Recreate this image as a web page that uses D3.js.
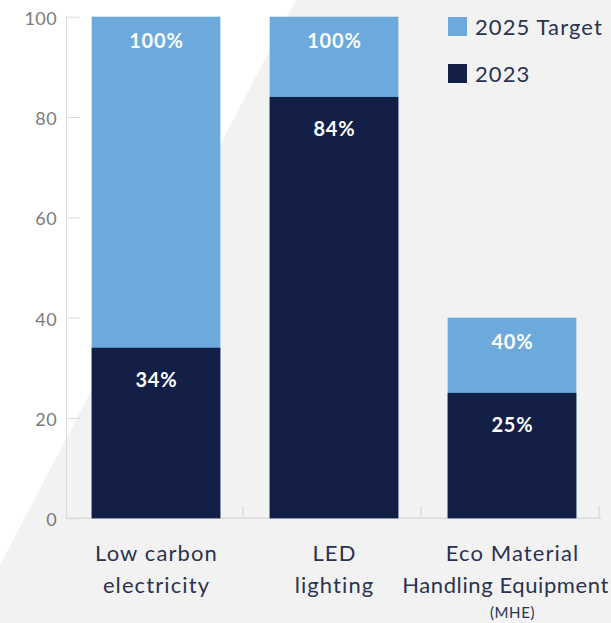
<!DOCTYPE html>
<html>
<head>
<meta charset="utf-8">
<script src="https://cdn.jsdelivr.net/npm/d3@7"></script>
<style>
  html, body { margin: 0; padding: 0; background: #f2f2f2; }
  svg { display: block; font-family: Lato, "Noto Sans", sans-serif; }
</style>
</head>
<body>
<svg id="chart" width="611" height="623"></svg>
<script>
// Share of sites reaching each initiative: 2023 actual vs 2025 target (%)
const categories = ["Low carbon electricity", "LED lighting", "Eco Material Handling Equipment"];
const categoryLines = [["Low carbon", "electricity"], ["LED", "lighting"], ["Eco Material", "Handling Equipment"]];
const categoryNotes = ["", "", "(MHE)"];
const actual2023 = [34, 84, 25];
const target2025 = [100, 100, 40];
const yTicks = [0, 20, 40, 60, 80, 100];
const seriesNames = ["2025 Target", "2023"];

const colors = { target: "#6ca9dc", actual: "#131f47" };

const svg = d3.select("#chart");
const W = 611, H = 623;

// page backdrop: white corner wedge over the grey field
svg.append("rect").attr("width", W).attr("height", H).attr("fill", "#f2f2f2");
svg.append("path").attr("d", "M0,0 L296,0 L0,565 Z").attr("fill", "#ffffff");

const x = d3.scaleBand().domain(categories).range([67, 601]).paddingInner(0.277).paddingOuter(0.1385);
const y = d3.scaleLinear().domain([0, 100]).range([518.3, 16.7]);

// y axis
const yAxis = svg.append("g").attr("transform", "translate(66.5,0)")
  .call(d3.axisRight(y).tickValues(yTicks).tickSize(13).tickFormat(""));
yAxis.select(".domain").attr("stroke", "#dcdcdc").attr("d", `M0,${y(100)}V${y(0)}`);
yAxis.selectAll(".tick line").attr("stroke", "#dcdcdc");

svg.append("g").selectAll("text").data(yTicks).join("text")
  .attr("x", 57).attr("y", d => y(d) + 3.5)
  .attr("text-anchor", "end").attr("dominant-baseline", "middle")
  .attr("font-size", 18).attr("letter-spacing", 0.4).attr("fill", "#7b7b7b")
  .text(d => d);

// x axis baseline with separators between categories
const step = x.step();
const sepX = categories.map((c, i) => 67 + step * (i + 1));
svg.append("line").attr("x1", 66.5).attr("x2", sepX[sepX.length - 1])
  .attr("y1", y(0)).attr("y2", y(0)).attr("stroke", "#dcdcdc").attr("stroke-width", 1.5);
svg.append("g").selectAll("line").data(sepX).join("line")
  .attr("x1", d => d - 2).attr("x2", d => d - 2)
  .attr("y1", y(0)).attr("y2", y(0) - 12)
  .attr("stroke", "#dcdcdc").attr("stroke-width", 1.5);

// bars: target drawn full height, 2023 on top from the baseline
const bars = svg.append("g");
bars.selectAll("rect.target").data(categories).join("rect")
  .attr("class", "target")
  .attr("x", d => x(d)).attr("width", x.bandwidth())
  .attr("y", (d, i) => y(target2025[i]))
  .attr("height", (d, i) => y(0) - y(target2025[i]))
  .attr("fill", colors.target);
bars.selectAll("rect.actual").data(categories).join("rect")
  .attr("class", "actual")
  .attr("x", d => x(d)).attr("width", x.bandwidth())
  .attr("y", (d, i) => y(actual2023[i]))
  .attr("height", (d, i) => y(0) - y(actual2023[i]))
  .attr("fill", colors.actual);

// value labels
const lbl = svg.append("g").attr("font-weight", 700).attr("font-size", 20)
  .attr("letter-spacing", 0.8).attr("fill", "#ffffff").attr("text-anchor", "middle");
lbl.selectAll("text.t").data(categories).join("text")
  .attr("x", d => x(d) + x.bandwidth() / 2 + 0.4)
  .attr("y", (d, i) => y(target2025[i]) + 31)
  .text((d, i) => target2025[i] + "%");
lbl.selectAll("text.a").data(categories).join("text")
  .attr("x", d => x(d) + x.bandwidth() / 2 + 0.4)
  .attr("y", (d, i) => y(actual2023[i]) + 39)
  .text((d, i) => actual2023[i] + "%");

// category labels, nudged left when a line would run past the right edge
const cat = svg.append("g").attr("fill", "#2b3350").attr("text-anchor", "middle");
categories.forEach((c, i) => {
  const cx = x(c) + x.bandwidth() / 2 + 0.5;
  categoryLines[i].forEach((line, j) => {
    const t = cat.append("text").attr("x", cx).attr("y", 561 + j * 32)
      .attr("font-size", 22).attr("letter-spacing", 1.1).text(line);
    let len = t.node().getComputedTextLength();
    if (cx + len / 2 > W - 2) {
      t.attr("letter-spacing", 0.6);
      len = t.node().getComputedTextLength();
      t.attr("x", Math.min(cx, W - 2 - len / 2));
    }
  });
  if (categoryNotes[i]) {
    cat.append("text").attr("x", cx).attr("y", 618).attr("font-size", 15)
      .attr("letter-spacing", 0.6).text(categoryNotes[i]);
  }
});

// legend
const leg = svg.append("g").attr("transform", "translate(448,17)");
seriesNames.forEach((name, i) => {
  const g = leg.append("g").attr("transform", `translate(0,${i * 47})`);
  g.append("rect").attr("width", 19).attr("height", 19)
    .attr("fill", i === 0 ? colors.target : colors.actual);
  g.append("text").attr("x", 27).attr("y", 18).attr("font-size", 22)
    .attr("letter-spacing", 1.1).attr("fill", "#2b3350").text(name);
});
</script>
</body>
</html>
